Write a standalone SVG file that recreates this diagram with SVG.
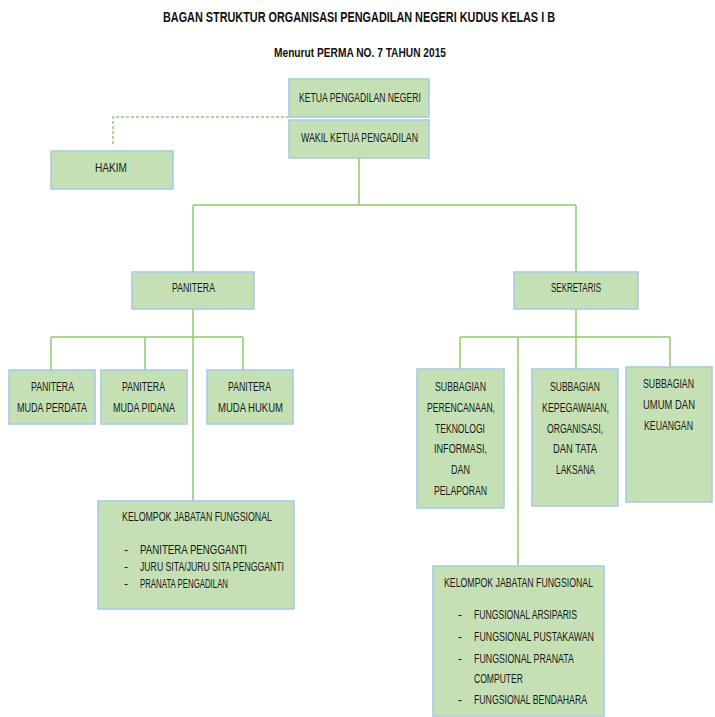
<svg xmlns="http://www.w3.org/2000/svg" width="715" height="717" viewBox="0 0 715 717">
<style>
.box{fill:#C5E0B4;stroke:#A5C8E8;stroke-width:1.5}
.ln{fill:none;stroke:#92C870;stroke-width:1.5}
.dot{fill:none;stroke:#92C870;stroke-width:1.5;stroke-dasharray:3 2}
text{font-family:"Liberation Sans",Arial,sans-serif;font-size:12.5px;fill:#1a1a1a}
.t{font-weight:bold;font-size:14.5px;fill:#111}
.s{font-weight:bold;font-size:12.5px;fill:#111}
</style>
<rect width="715" height="717" fill="#fff"/>
<text class="t" x="163" y="22" textLength="392" lengthAdjust="spacingAndGlyphs">BAGAN STRUKTUR ORGANISASI PENGADILAN NEGERI KUDUS KELAS I B</text>
<text class="s" x="274" y="57" textLength="172" lengthAdjust="spacingAndGlyphs">Menurut PERMA NO. 7 TAHUN 2015</text>

<g id="connectors">
<path class="dot" d="M289,117 H113 V146"/>
<path class="ln" d="M359,158 V205 M193,205 H576 M193,205 V272 M576,205 V272"/>
<path class="ln" d="M193,309 V501 M51,337 H243 M51,337 V370 M145,337 V370 M243,337 V370"/>
<path class="ln" d="M576,309 V369 M460,337 H670 M460,337 V369 M670,337 V367 M518,337 V566"/>
</g>

<g id="ketua"><rect class="box" x="289" y="79" width="140" height="38"/>
<text x="299" y="102" textLength="122" lengthAdjust="spacingAndGlyphs">KETUA PENGADILAN NEGERI</text></g>
<g id="wakil"><rect class="box" x="289" y="120" width="140" height="38"/>
<text x="301" y="142" textLength="117" lengthAdjust="spacingAndGlyphs">WAKIL KETUA PENGADILAN</text></g>
<g id="hakim"><rect class="box" x="51" y="151" width="122" height="38"/>
<text x="95" y="172" textLength="32" lengthAdjust="spacingAndGlyphs">HAKIM</text></g>

<g id="panitera"><rect class="box" x="132" y="272" width="122" height="37"/>
<text x="172" y="292" textLength="43" lengthAdjust="spacingAndGlyphs">PANITERA</text></g>
<g id="sekretaris"><rect class="box" x="514" y="272" width="124" height="37"/>
<text x="551" y="292" textLength="50" lengthAdjust="spacingAndGlyphs">SEKRETARIS</text></g>

<g id="pm-perdata"><rect class="box" x="9" y="370" width="86" height="54"/>
<text x="31" y="391" textLength="43" lengthAdjust="spacingAndGlyphs">PANITERA</text>
<text x="17" y="412" textLength="70" lengthAdjust="spacingAndGlyphs">MUDA PERDATA</text></g>
<g id="pm-pidana"><rect class="box" x="101" y="370" width="86" height="54"/>
<text x="122" y="391" textLength="43" lengthAdjust="spacingAndGlyphs">PANITERA</text>
<text x="113" y="412" textLength="62" lengthAdjust="spacingAndGlyphs">MUDA PIDANA</text></g>
<g id="pm-hukum"><rect class="box" x="207" y="370" width="86" height="54"/>
<text x="228" y="391" textLength="43" lengthAdjust="spacingAndGlyphs">PANITERA</text>
<text x="218" y="412" textLength="65" lengthAdjust="spacingAndGlyphs">MUDA HUKUM</text></g>

<g id="kjf-panitera"><rect class="box" x="98" y="501" width="196" height="108"/>
<text x="122" y="521" textLength="150" lengthAdjust="spacingAndGlyphs">KELOMPOK JABATAN FUNGSIONAL</text>
<text x="124" y="554">-</text><text x="140" y="554" textLength="107" lengthAdjust="spacingAndGlyphs">PANITERA PENGGANTI</text>
<text x="124" y="571">-</text><text x="140" y="571" textLength="144" lengthAdjust="spacingAndGlyphs">JURU SITA/JURU SITA PENGGANTI</text>
<text x="124" y="588">-</text><text x="140" y="588" textLength="88" lengthAdjust="spacingAndGlyphs">PRANATA PENGADILAN</text></g>

<g id="sub-perencanaan"><rect class="box" x="417" y="369" width="87" height="139"/>
<text x="435" y="391" textLength="51" lengthAdjust="spacingAndGlyphs">SUBBAGIAN</text>
<text x="427" y="412" textLength="68" lengthAdjust="spacingAndGlyphs">PERENCANAAN,</text>
<text x="435" y="433" textLength="50" lengthAdjust="spacingAndGlyphs">TEKNOLOGI</text>
<text x="434" y="453" textLength="53" lengthAdjust="spacingAndGlyphs">INFORMASI,</text>
<text x="451" y="474" textLength="19" lengthAdjust="spacingAndGlyphs">DAN</text>
<text x="434" y="495" textLength="53" lengthAdjust="spacingAndGlyphs">PELAPORAN</text></g>
<g id="sub-kepegawaian"><rect class="box" x="532" y="369" width="86" height="137"/>
<text x="550" y="391" textLength="50" lengthAdjust="spacingAndGlyphs">SUBBAGIAN</text>
<text x="542" y="412" textLength="67" lengthAdjust="spacingAndGlyphs">KEPEGAWAIAN,</text>
<text x="547" y="433" textLength="56" lengthAdjust="spacingAndGlyphs">ORGANISASI,</text>
<text x="553" y="453" textLength="44" lengthAdjust="spacingAndGlyphs">DAN TATA</text>
<text x="556" y="474" textLength="39" lengthAdjust="spacingAndGlyphs">LAKSANA</text></g>
<g id="sub-umum"><rect class="box" x="626" y="367" width="86" height="135"/>
<text x="643" y="388" textLength="51" lengthAdjust="spacingAndGlyphs">SUBBAGIAN</text>
<text x="643" y="409" textLength="52" lengthAdjust="spacingAndGlyphs">UMUM DAN</text>
<text x="644" y="430" textLength="49" lengthAdjust="spacingAndGlyphs">KEUANGAN</text></g>

<g id="kjf-sekretaris"><rect class="box" x="433" y="566" width="171" height="150"/>
<text x="444" y="587" textLength="149" lengthAdjust="spacingAndGlyphs">KELOMPOK JABATAN FUNGSIONAL</text>
<text x="458" y="619">-</text><text x="474" y="619" textLength="103" lengthAdjust="spacingAndGlyphs">FUNGSIONAL ARSIPARIS</text>
<text x="458" y="641">-</text><text x="474" y="641" textLength="120" lengthAdjust="spacingAndGlyphs">FUNGSIONAL PUSTAKAWAN</text>
<text x="458" y="663">-</text><text x="474" y="663" textLength="100" lengthAdjust="spacingAndGlyphs">FUNGSIONAL PRANATA</text>
<text x="474" y="683" textLength="49" lengthAdjust="spacingAndGlyphs">COMPUTER</text>
<text x="458" y="704">-</text><text x="474" y="704" textLength="113" lengthAdjust="spacingAndGlyphs">FUNGSIONAL BENDAHARA</text></g>
</svg>
